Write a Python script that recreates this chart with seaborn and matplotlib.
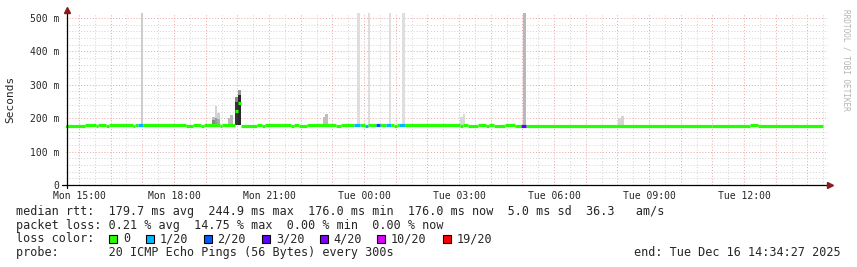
import numpy as np
import pandas as pd
import matplotlib
matplotlib.use("Agg")
import matplotlib.pyplot as plt
from matplotlib.patches import Rectangle
from matplotlib.ticker import MultipleLocator, FixedLocator, FuncFormatter
import seaborn as sns

# ---------------- data (time = hours since Mon 00:00) ----------------
window_start = 14.574      # Mon 14:34:27
window_end = 38.574        # Tue 14:34:27

# median rtt segments: start time, value (ms), loss bucket
seg_start = [14.574, 15.19, 15.54, 15.60, 15.85, 15.95, 16.71, 16.77, 16.86, 17.02,
             18.38, 18.60, 18.85, 18.95, 19.45, 19.52, 19.94, 20.01, 20.12, 20.61,
             20.78, 20.87, 21.69, 21.79, 21.95, 22.20, 23.12, 23.27, 23.68, 23.87,
             24.03, 24.13, 24.38, 24.50, 24.69, 24.85, 24.95, 25.04, 25.10, 25.29,
             27.03, 27.13, 27.28, 27.60, 27.85, 27.95, 28.10, 28.45, 28.77, 28.96,
             29.11, 34.99, 36.19, 36.44]
seg_rtt = [177, 180, 177, 180, 177, 180, 177, 180, 180, 180,
           177, 180, 177, 180, 177, 180, 222, 244.9, 177, 180,
           177, 180, 177, 180, 177, 180, 177, 180, 180, 180,
           177, 180, 180, 180, 180, 180, 177, 180, 180, 180,
           177, 180, 177, 180, 177, 180, 177, 180, 177, 178,
           178, 176.5, 179, 176.5]
seg_loss = ["0", "0", "0", "0", "0", "0", "0", "0", "1/20", "0",
            "0", "0", "0", "0", "0", "0", "0", "0", "0", "0",
            "0", "0", "0", "0", "0", "0", "0", "0", "1/20", "0",
            "1/20", "0", "2/20", "0", "1/20", "0", "0", "0", "1/20", "0",
            "0", "0", "0", "0", "0", "0", "0", "0", "0", "3/20",
            "0", "0", "0", "0"]
median_last = 38.49

# smoke (ping spread) blocks: start, end, low ms, high ms, ping density
smoke_t0 = [16.97, 19.20, 19.20, 19.29, 19.29, 19.37, 19.37, 19.70, 19.78,
            19.94, 19.94, 20.01, 20.01, 22.69, 22.78, 23.79, 24.12, 24.79,
            25.19, 27.03, 27.11, 29.01, 32.02, 32.12]
smoke_t1 = [17.03, 19.29, 19.29, 19.37, 19.37, 19.45, 19.45, 19.78, 19.86,
            20.01, 20.01, 20.12, 20.12, 22.78, 22.87, 23.87, 24.19, 24.85,
            25.29, 27.11, 27.19, 29.11, 32.12, 32.21]
smoke_lo = [181, 181, 195, 181, 200, 181, 197, 181, 181,
            181, 250, 181, 270, 181, 181, 181, 181, 181,
            181, 181, 181, 181, 181, 181]
smoke_hi = [520, 195, 205, 200, 238, 197, 215, 201, 210,
            250, 262, 270, 284, 203, 213, 520, 520, 520,
            520, 204, 212, 520, 201, 207]
smoke_density = [0.20, 0.47, 0.26, 0.40, 0.17, 0.34, 0.19, 0.27, 0.27,
                 0.80, 0.47, 0.84, 0.40, 0.25, 0.25, 0.13, 0.13, 0.13,
                 0.13, 0.15, 0.15, 0.28, 0.17, 0.17]

loss_labels = ["0", "1/20", "2/20", "3/20", "4/20", "10/20", "19/20"]
loss_colors = ["#26ff00", "#00b8ff", "#0059ff", "#5e00ff", "#7e00ff", "#dd00ff", "#ff0000"]

y_ticks_ms = [0, 100, 200, 300, 400, 500]
label_hours = [15, 18, 21, 24, 27, 30, 33, 36]

stats_line1 = "median rtt:  179.7 ms avg  244.9 ms max  176.0 ms min  176.0 ms now  5.0 ms sd  36.3   am/s"
stats_line2 = "packet loss: 0.21 % avg  14.75 % max  0.00 % min  0.00 % now"
probe_line = "probe:       20 ICMP Echo Pings (56 Bytes) every 300s"
end_line = "end: Tue Dec 16 14:34:27 2025"

# ---------------- figure ----------------
sns.set_theme(style="white")
MONO = "DejaVu Sans Mono"
plt.rcParams["font.family"] = [MONO, "DejaVu Sans"]

W, H = 857, 267
fig = plt.figure(figsize=(W / 100, H / 100), dpi=100)
fig.patch.set_facecolor("white")
ax = fig.add_axes([65.5 / W, 1 - 185 / H, (828 - 65.5) / W, (185 - 13) / H])
ax.set_facecolor("white")
ax.set_xlim(window_start, window_start + (828 - 65.5) / 31.67)
ax.set_ylim(0, 515)

# grid
major_c = "#eaa3a3"
minor_c = "#d2d2d2"
ax.xaxis.set_major_locator(MultipleLocator(1))
ax.xaxis.set_minor_locator(MultipleLocator(0.5))
ax.yaxis.set_major_locator(FixedLocator(y_ticks_ms))
ax.yaxis.set_minor_locator(MultipleLocator(20))
ax.grid(which="minor", color=minor_c, linestyle=(0, (1, 2)), linewidth=0.7)
ax.grid(which="major", color=major_c, linestyle=(0, (1, 2)), linewidth=0.7)
ax.set_axisbelow(True)


def xfmt(v, pos):
    h = int(round(v))
    if abs(v - h) > 1e-6 or h not in label_hours:
        return ""
    day = "Mon" if h < 24 else "Tue"
    return f"{day} {h % 24:02d}:00"


ax.xaxis.set_major_formatter(FuncFormatter(xfmt))
ax.yaxis.set_major_formatter(FuncFormatter(lambda v, p: "0" if v == 0 else f"{int(v)} m"))
ax.tick_params(axis="both", which="major", labelsize=7, length=2.5, width=0.6,
               color="#444444", pad=3, direction="inout")
ax.tick_params(axis="both", which="minor", length=1.5, width=0.5, color="#777777",
               direction="inout")
for lab in ax.get_xticklabels() + ax.get_yticklabels():
    lab.set_family(MONO)
for s in ax.spines.values():
    s.set_visible(False)

# smoke
for t0, t1, lo, hi, d in zip(smoke_t0, smoke_t1, smoke_lo, smoke_hi, smoke_density):
    g = 1 - d
    ax.bar(t0, hi - lo, bottom=lo, width=t1 - t0, align="edge",
           color=(g, g, g), linewidth=0, zorder=2)

# median line
seg_end = seg_start[1:] + [median_last]
rows = []
for i, (a, b, v, l) in enumerate(zip(seg_start, seg_end, seg_rtt, seg_loss)):
    rows.append({"t": a, "rtt": v, "seg": i, "loss": l})
    rows.append({"t": b, "rtt": v, "seg": i, "loss": l})
df = pd.DataFrame(rows)
sns.lineplot(data=df, x="t", y="rtt", hue="loss", units="seg", estimator=None,
             palette=dict(zip(loss_labels, loss_colors)), hue_order=loss_labels,
             linewidth=2.3, legend=False, ax=ax, zorder=4)
for ln in ax.lines:
    ln.set_solid_capstyle("butt")
ax.set_xlabel("")
ax.set_ylabel("")

# axis lines with arrows (figure pixel coords)
def F(x, y):
    return x / W, 1 - y / H

arrow_c = "#8b1a1a"
fig.add_artist(plt.Line2D(*zip(F(62, 185), F(829, 185)), color="black", lw=0.9))
fig.add_artist(plt.Line2D(*zip(F(66.5, 188), F(66.5, 11)), color="black", lw=0.9))
fig.add_artist(plt.Line2D([F(830, 185)[0]], [F(830, 185)[1]], marker=">", markersize=4,
                          color=arrow_c, linestyle="none"))
fig.add_artist(plt.Line2D([F(66.5, 10)[0]], [F(66.5, 10)[1]], marker="^", markersize=4,
                          color=arrow_c, linestyle="none"))

# labels
fig.text(*F(10, 99), "Seconds", rotation=90, ha="center", va="center",
         fontsize=8, family=MONO)
fig.text(*F(846, 60), "RRDTOOL / TOBI OETIKER", rotation=270, ha="center",
         va="center", fontsize=5.6, family=MONO, color="#b4b4b4")

fs = 8.5
fig.text(*F(16, 212), stats_line1, ha="left", va="center", fontsize=fs, family=MONO)
fig.text(*F(16, 225.5), stats_line2, ha="left", va="center", fontsize=fs, family=MONO)
fig.text(*F(16, 239), "loss color:", ha="left", va="center", fontsize=fs, family=MONO)
box_x = [109, 146, 203.5, 262, 319.5, 377, 443]
for bx, lab, col in zip(box_x, loss_labels, loss_colors):
    x0, y0 = F(bx, 243)
    fig.add_artist(Rectangle((x0, y0), 8 / W, 8 / H, transform=fig.transFigure,
                             facecolor=col, edgecolor="black", linewidth=0.8))
    fig.text(*F(bx + 14, 239), lab, ha="left", va="center", fontsize=fs, family=MONO)
fig.text(*F(16, 252.5), probe_line, ha="left", va="center", fontsize=fs, family=MONO)
fig.text(*F(841, 252.5), end_line, ha="right", va="center", fontsize=fs, family=MONO)

fig.savefig("out.png", dpi=100, facecolor="white")
